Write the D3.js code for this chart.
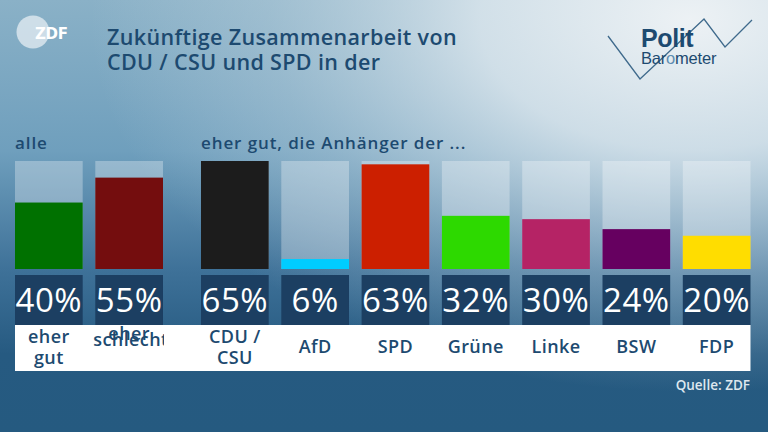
<!DOCTYPE html>
<html>
<head>
<meta charset="utf-8">
<script src="https://cdn.jsdelivr.net/npm/d3@7"></script>
<style>
  html, body { margin: 0; padding: 0; background: #24567e; }
  svg { display: block; }
</style>
</head>
<body>
<svg id="chart" width="768" height="432"></svg>
<script>
// Chart data
const categories = ["eher gut", "eher schlecht", "CDU/CSU", "AfD", "SPD", "Grüne", "Linke", "BSW", "FDP"];
const values = [40, 55, 65, 6, 63, 32, 30, 24, 20];
const barColors = ["#007100", "#740d0e", "#1c1c1c", "#00ccff", "#cc1f00", "#2dd900", "#b52365", "#660060", "#ffdd00"];
const labelLines = [["eher", "gut"], ["eher", "schlecht"], ["CDU /", "CSU"], ["AfD"], ["SPD"], ["Grüne"], ["Linke"], ["BSW"], ["FDP"]];
const groupTitles = ["alle", "eher gut, die Anhänger der ..."];
const titleLines = ["Zukünftige Zusammenarbeit von", "CDU / CSU und SPD in der"];
const source = "Quelle: ZDF";

const W = 768, H = 432;
const NAVY = "#1d4a70";
const FONT = "'Open Sans', sans-serif";
const GROUP_GAP = 25.4;

const svg = d3.select("#chart");
const defs = svg.append("defs");

// background: vertical base + light radial glow at top right
const base = defs.append("linearGradient").attr("id", "bgBase")
    .attr("x1", 0).attr("y1", 0).attr("x2", 0).attr("y2", 1);
[[0, "#8ab1c7"], [0.35, "#6f9fbd"], [0.62, "#3f7299"], [0.82, "#265a81"], [1, "#255a80"]]
    .forEach(([o, c]) => base.append("stop").attr("offset", o).attr("stop-color", c));

const glow = defs.append("radialGradient").attr("id", "bgGlow")
    .attr("gradientUnits", "userSpaceOnUse")
    .attr("cx", 690).attr("cy", 20).attr("r", 600)
    .attr("gradientTransform", "translate(690,20) scale(1,0.62) translate(-690,-20)");
[[0, "#f2f5f7", 0.95], [0.35, "#e4ecf1", 0.8], [0.7, "#c8d9e3", 0.35], [1, "#c8d9e3", 0]]
    .forEach(([o, c, a]) => glow.append("stop").attr("offset", o).attr("stop-color", c).attr("stop-opacity", a));

svg.append("rect").attr("width", W).attr("height", H).attr("fill", "url(#bgBase)");
svg.append("rect").attr("width", W).attr("height", H).attr("fill", "url(#bgGlow)");

// ZDF logo
const logo = svg.append("g");
logo.append("circle").attr("cx", 33).attr("cy", 32).attr("r", 16.5)
    .attr("fill", "#e6eef3").attr("opacity", 0.75);
logo.append("text").attr("x", 35).attr("y", 38.5)
    .attr("font-family", "'DejaVu Sans', sans-serif").attr("font-weight", "bold")
    .attr("font-size", 15).attr("fill", "#ffffff").attr("letter-spacing", -0.3)
    .text("ZDF");

// Title
svg.append("g").selectAll("text").data(titleLines).join("text")
    .attr("x", 107).attr("y", (d, i) => 45 + i * 25)
    .attr("font-family", FONT).attr("font-weight", 600).attr("font-size", 21.5)
    .attr("letter-spacing", 0.35)
    .attr("fill", NAVY).text(d => d);

// Politbarometer logo
const pb = svg.append("g");
pb.append("polyline")
    .attr("points", [[608, 36], [640, 79], [704, 19], [725, 47], [752, 20]].join(" "))
    .attr("fill", "none").attr("stroke", "#3f6a8c").attr("stroke-width", 1.3);
pb.append("text").attr("x", 641).attr("y", 47)
    .attr("font-family", "'Liberation Sans', Arial, sans-serif").attr("font-weight", "bold")
    .attr("font-size", 25).attr("fill", NAVY).attr("letter-spacing", -0.4).text("Polit");
const baro = pb.append("text").attr("x", 641).attr("y", 63.5)
    .attr("font-family", "'Liberation Sans', Arial, sans-serif")
    .attr("font-size", 16.5).attr("fill", NAVY).attr("letter-spacing", -0.2);
baro.append("tspan").text("Bar");
baro.append("tspan").attr("fill", "#5d8db2").text("o");
baro.append("tspan").text("meter");

// Scales
const x = d3.scaleBand().domain(categories)
    .range([15, 15 + 80.3 * (categories.length - 0.157)])
    .paddingInner(0.157).paddingOuter(0);
const xPos = (d, i) => x(d) + (i >= 2 ? GROUP_GAP : 0);
const y = d3.scaleLinear().domain([0, d3.max(values)]).range([269, 161]);

// Group titles
svg.append("g").selectAll("text").data(groupTitles).join("text")
    .attr("x", (d, i) => xPos(categories[i * 2], i * 2))
    .attr("y", 149)
    .attr("font-family", FONT).attr("font-weight", 600).attr("font-size", 17)
    .attr("letter-spacing", 0.9)
    .attr("fill", NAVY).text(d => d);

// Tracks
svg.append("g").selectAll("rect").data(categories).join("rect")
    .attr("x", xPos).attr("y", y.range()[1])
    .attr("width", x.bandwidth()).attr("height", y.range()[0] - y.range()[1])
    .attr("fill", "#ffffff").attr("fill-opacity", 0.3);

// Bars
svg.append("g").selectAll("rect").data(categories).join("rect")
    .attr("x", xPos).attr("y", (d, i) => y(values[i]))
    .attr("width", x.bandwidth()).attr("height", (d, i) => y(0) - y(values[i]))
    .attr("fill", (d, i) => barColors[i]);

// Value boxes
const vb = svg.append("g").selectAll("g").data(categories).join("g");
vb.append("rect")
    .attr("x", xPos).attr("y", 275)
    .attr("width", x.bandwidth()).attr("height", 50)
    .attr("fill", "#1c3f62");
vb.append("text")
    .attr("x", (d, i) => xPos(d, i) + x.bandwidth() / 2).attr("y", 311.5)
    .attr("text-anchor", "middle")
    .attr("font-family", FONT).attr("font-size", 33).attr("letter-spacing", 0.6)
    .attr("fill", "#ffffff")
    .text((d, i) => values[i] + "%");

// Label band
svg.append("rect").attr("x", 15).attr("y", 325)
    .attr("width", xPos(categories[8], 8) + x.bandwidth() - 15).attr("height", 46)
    .attr("fill", "#ffffff");

// Category labels (the "eher schlecht" label overlaps and is clipped, as in the source)
categories.forEach((c, i) => {
    const cx = xPos(c, i) + x.bandwidth() / 2;
    const lines = labelLines[i];
    const clipId = "clip" + i;
    defs.append("clipPath").attr("id", clipId).append("rect")
        .attr("x", xPos(c, i) - 8).attr("y", 325).attr("width", x.bandwidth() + 9).attr("height", 46);
    const g = svg.append("g").attr("clip-path", `url(#${clipId})`);
    const t = g.append("text")
        .attr("font-family", FONT).attr("font-weight", 600).attr("font-size", 18)
        .attr("letter-spacing", 0.4)
        .attr("fill", NAVY);
    if (i === 1) {
        t.append("tspan").attr("x", cx).attr("y", 340).attr("text-anchor", "middle").text(lines[0]);
        g.append("text").attr("x", xPos(c, i) - 2).attr("y", 346)
            .attr("font-family", FONT).attr("font-weight", 600).attr("font-size", 18)
            .attr("letter-spacing", 0.4)
            .attr("fill", NAVY).text(lines[1]);
    } else if (lines.length === 2) {
        t.attr("text-anchor", "middle");
        t.append("tspan").attr("x", cx).attr("y", 343).text(lines[0]);
        t.append("tspan").attr("x", cx).attr("y", 364).text(lines[1]);
    } else {
        t.attr("text-anchor", "middle").attr("x", cx).attr("y", 353).text(lines[0]);
    }
});

// Source
svg.append("text").attr("x", 750).attr("y", 390).attr("text-anchor", "end")
    .attr("font-family", FONT).attr("font-weight", 600).attr("font-size", 13.5)
    .attr("fill", "#dfe8ef").text(source);
</script>
</body>
</html>
